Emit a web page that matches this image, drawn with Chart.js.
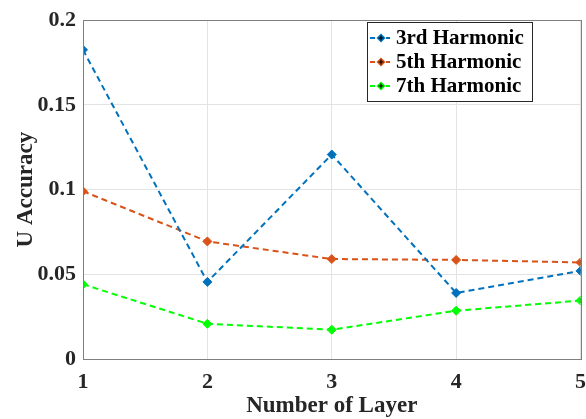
<!DOCTYPE html>
<html><head><meta charset="utf-8">
<script src="https://cdn.jsdelivr.net/npm/chart.js@4/dist/chart.umd.min.js"></script>
<style>html,body{margin:0;padding:0;background:#fff}#w{width:586px;height:419px;position:relative}</style>
</head><body><div id="w"><canvas id="c" width="586" height="419"></canvas></div>
<script>
const layers = [1, 2, 3, 4, 5];
const harmonic3 = [0.1825, 0.0455, 0.1207, 0.039, 0.052];
const harmonic5 = [0.099, 0.0694, 0.059, 0.0585, 0.057];
const harmonic7 = [0.0441, 0.0208, 0.0173, 0.0285, 0.0345];
const seriesNames = ['3rd Harmonic', '5th Harmonic', '7th Harmonic'];
const yTicks = [0, 0.05, 0.1, 0.15, 0.2];
const xTicks = [1, 2, 3, 4, 5];

const colors = ['#0072BD', '#D95319', '#00FF00'];
const FONT = '"Liberation Serif", "Times New Roman", serif';

function pts(arr){ return arr.map((v,i)=>({x:layers[i], y:v})); }
const main = [harmonic3, harmonic5, harmonic7].map((arr,k)=>({
  label: seriesNames[k], data: pts(arr), borderColor: colors[k], backgroundColor: colors[k],
  borderWidth: 2, borderDash: [6,4], pointStyle: 'rectRot', pointRadius: 4.5,
  pointBorderColor: colors[k], pointBackgroundColor: colors[k], pointBorderWidth: 1, fill:false, tension:0
}));
const centers = [harmonic3, harmonic5, harmonic7].map((arr,k)=>({
  label: '_c'+k, data: pts(arr), showLine:false, pointStyle:'cross', pointRadius:2.5,
  pointBorderColor:'#000', pointBorderWidth:1.2, borderColor:'#000'
}));

const legendPlugin = {
  id:'boxLegend',
  afterDraw(chart){
    const ctx = chart.ctx;
    const x0=367, y0=22, w=165, h=79;
    ctx.save();
    ctx.fillStyle='#fff'; ctx.fillRect(x0,y0,w,h);
    ctx.strokeStyle='#262626'; ctx.lineWidth=1; ctx.strokeRect(x0+0.5,y0+0.5,w,h);
    const rows=[38,62,86];
    seriesNames.forEach((n,k)=>{
      const y=rows[k];
      ctx.strokeStyle=colors[k]; ctx.lineWidth=2; ctx.setLineDash([5,3]);
      ctx.beginPath(); ctx.moveTo(370,y); ctx.lineTo(390,y); ctx.stroke();
      ctx.setLineDash([]);
      ctx.fillStyle=colors[k];
      ctx.beginPath(); ctx.moveTo(381,y-4.5); ctx.lineTo(385.5,y); ctx.lineTo(381,y+4.5); ctx.lineTo(376.5,y); ctx.closePath(); ctx.fill();
      ctx.strokeStyle='#000'; ctx.lineWidth=1.2;
      ctx.beginPath(); ctx.moveTo(381,y-2.5); ctx.lineTo(381,y+2.5); ctx.moveTo(378.5,y); ctx.lineTo(383.5,y); ctx.stroke();
      ctx.fillStyle='#000'; ctx.font='bold 21px '+FONT; ctx.textBaseline='middle'; ctx.textAlign='left';
      ctx.fillText(n, 396, y+1);
    });
    ctx.restore();
  }
};
const boxPlugin = {
  id:'box',
  afterDatasetsDraw(chart){
    const a=chart.chartArea, ctx=chart.ctx;
    ctx.save(); ctx.strokeStyle='#7f7f7f'; ctx.lineWidth=1;
    ctx.strokeRect(Math.round(a.left)+0.5, Math.round(a.top)+0.5, Math.round(a.right-a.left), Math.round(a.bottom-a.top));
    ctx.restore();
  }
};

new Chart(document.getElementById('c'), {
  type:'line',
  data:{ datasets:[...main, ...centers] },
  options:{
    responsive:false, animation:false, devicePixelRatio:1,
    layout:{ padding:{ top:16, right:0, left:0, bottom:0 } },
    plugins:{ legend:{display:false}, tooltip:{enabled:false} },
    scales:{
      x:{ type:'linear', min:1, max:5,
        afterBuildTicks(s){ s.ticks = xTicks.map(v=>({value:v})); },
        afterFit(s){ s.height = 60; },
        grid:{ color:'#e3e3e3', drawTicks:true, tickLength:10, tickColor:'rgba(0,0,0,0)' },
        border:{ display:false },
        ticks:{ padding:0, color:'#262626', font:{family:FONT, size:22, weight:'bold'}, maxRotation:0, callback:(v)=>String(v) },
        title:{ display:true, text:'Number of Layer', color:'#262626', padding:{top:0,bottom:-1}, font:{family:FONT, size:23, weight:'bold'} }
      },
      y:{ type:'linear', min:0, max:0.2,
        afterBuildTicks(s){ s.ticks = yTicks.map(v=>({value:v})); },
        afterFit(s){ s.width = 83; },
        grid:{ color:'#e3e3e3', drawTicks:false },
        border:{ display:false },
        ticks:{ padding:7, color:'#262626', font:{family:FONT, size:22, weight:'bold'}, callback:(v)=>String(v) },
        title:{ display:true, text:'U Accuracy', color:'#262626', padding:{top:12,bottom:0}, font:{family:FONT, size:23, weight:'bold'} }
      }
    }
  },
  plugins:[boxPlugin, legendPlugin]
});
</script></body></html>
